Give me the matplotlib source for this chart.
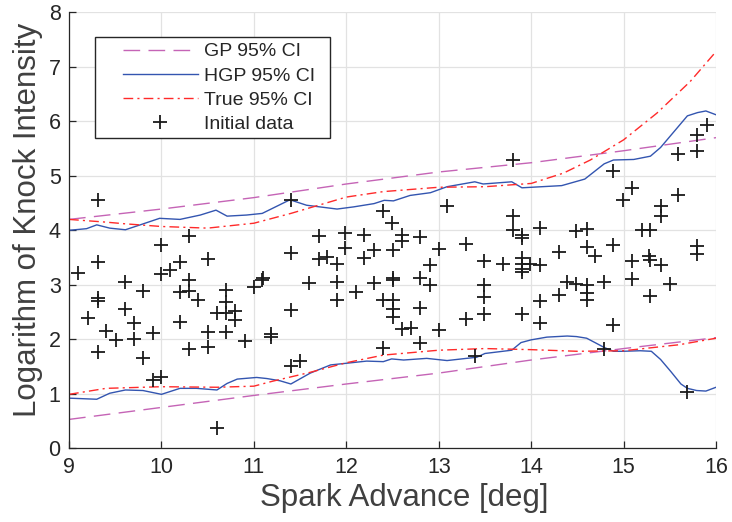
import matplotlib
matplotlib.use("Agg")
import matplotlib.pyplot as plt
from matplotlib.patches import Rectangle

# ---- data -------------------------------------------------------------
spark_x = [9.10, 9.21, 9.31, 9.31, 9.31, 9.31, 9.31, 9.40, 9.51, 9.61, 9.61,
           9.70, 9.70, 9.80, 9.80, 9.91, 9.91, 10.00, 10.00, 10.00, 10.09,
           10.20, 10.20, 10.20, 10.30, 10.30, 10.30, 10.30, 10.39, 10.50,
           10.50, 10.50, 10.60, 10.60, 10.70, 10.70, 10.70, 10.70, 10.80,
           10.80, 10.90, 11.00, 11.10, 11.09, 11.19, 11.19, 11.40, 11.40,
           11.40, 11.40, 11.50, 11.60, 11.70, 11.70, 11.79, 11.90, 11.90,
           11.90, 11.99, 11.99, 12.10, 12.19, 12.19, 12.30, 12.30, 12.40,
           12.40, 12.40, 12.49, 12.50, 12.50, 12.50, 12.50, 12.50, 12.50,
           12.60, 12.60, 12.60, 12.70, 12.80, 12.80, 12.80, 12.80, 12.90,
           12.90, 13.00, 13.00, 13.09, 13.30, 13.30, 13.39, 13.49, 13.49,
           13.49, 13.49, 13.69, 13.80, 13.80, 13.80, 13.90, 13.90, 13.90,
           13.90, 13.90, 13.90, 13.90, 13.99, 14.10, 14.10, 14.10, 14.10,
           14.30, 14.30, 14.39, 14.49, 14.49, 14.60, 14.60, 14.60, 14.60,
           14.60, 14.69, 14.79, 14.79, 14.89, 14.89, 14.89, 14.99, 15.09,
           15.09, 15.09, 15.20, 15.29, 15.28, 15.29, 15.29, 15.40, 15.40,
           15.40, 15.50, 15.59, 15.59, 15.69, 15.79, 15.79, 15.79, 15.79,
           15.90]
knock_y = [3.22, 2.40, 4.56, 3.41, 2.75, 2.70, 1.77, 2.15, 1.99, 3.05, 2.56,
           2.29, 2.00, 2.88, 1.65, 2.11, 1.25, 3.73, 3.20, 1.31, 3.27,
           3.42, 2.87, 2.31, 3.90, 3.08, 2.89, 1.83, 2.72, 3.47,
           2.14, 1.86, 2.49, 0.37, 2.90, 2.68, 2.48, 2.14, 2.52,
           2.36, 1.97, 2.96, 3.12, 3.08, 2.10, 2.05, 4.55, 3.59,
           2.54, 1.51, 1.60, 3.04, 3.90, 3.47, 3.51, 3.38, 3.05,
           2.72, 3.95, 3.68, 2.87, 3.92, 3.50, 3.63, 3.03, 4.35,
           2.72, 1.84, 4.14, 3.64, 3.12, 3.09, 2.72, 2.55, 2.41,
           3.91, 3.81, 2.18, 2.21, 3.88, 3.12, 2.58, 1.94, 3.36,
           3.00, 3.66, 2.17, 4.44, 3.74, 2.38, 1.70, 3.43, 3.00,
           2.78, 2.47, 3.39, 5.29, 4.26, 4.01, 3.92, 3.86, 3.49,
           3.38, 3.29, 3.24, 2.47, 3.39, 4.04, 3.37, 2.71, 2.30,
           3.60, 2.81, 3.05, 3.99, 3.02, 4.03, 3.69, 2.99, 2.85,
           2.72, 3.52, 3.05, 1.83, 5.09, 3.73, 2.26, 4.56, 4.78,
           3.43, 3.10, 4.00, 4.00, 3.53, 3.46, 2.80, 4.44, 4.27,
           3.36, 3.01, 5.40, 4.64, 1.04, 5.75, 5.46, 3.72, 3.56,
           5.93]

gp_x = [9.0, 10.0, 11.0, 12.0, 13.0, 14.0, 15.0, 16.0]
gp_upper = [4.20, 4.39, 4.60, 4.85, 5.07, 5.24, 5.46, 5.70]
gp_lower = [0.53, 0.75, 0.97, 1.18, 1.38, 1.62, 1.83, 2.03]

true_up_x = [9.0, 9.4, 9.6, 10.0, 10.5, 11.0, 11.4, 12.0, 12.4, 13.0, 13.5,
             14.0, 14.35, 14.64, 15.0, 15.36, 15.72, 16.0]
true_upper = [4.20, 4.15, 4.12, 4.07, 4.04, 4.13, 4.31, 4.61, 4.71, 4.79, 4.80,
              4.86, 5.05, 5.29, 5.66, 6.15, 6.73, 7.28]
true_lo_x = [9.0, 9.4, 10.0, 10.6, 11.0, 11.2, 11.6, 12.0, 12.4, 13.0, 13.5,
             14.0, 14.5, 15.0, 15.6, 16.0]
true_lower = [0.99, 1.10, 1.13, 1.12, 1.14, 1.23, 1.39, 1.57, 1.71, 1.80, 1.83,
              1.81, 1.78, 1.79, 1.90, 2.02]

hgp_up_x = [9.0, 9.19, 9.30, 9.44, 9.61, 9.77, 9.98, 10.20, 10.42, 10.59,
            10.71, 10.92, 11.09, 11.39, 11.57, 11.90, 12.08, 12.30, 12.41,
            12.51, 12.69, 12.91, 13.09, 13.39, 13.48, 13.79, 13.90, 14.33,
            14.58, 14.79, 14.89, 15.11, 15.29, 15.40, 15.59, 15.69, 15.80,
            15.89, 16.0]
hgp_upper = [4.00, 4.03, 4.10, 4.04, 4.01, 4.10, 4.22, 4.20, 4.28, 4.37,
             4.26, 4.28, 4.31, 4.56, 4.46, 4.39, 4.43, 4.49, 4.55,
             4.54, 4.64, 4.69, 4.80, 4.89, 4.85, 4.89, 4.78, 4.82,
             4.94, 5.22, 5.29, 5.30, 5.36, 5.52, 5.90, 6.10, 6.16,
             6.19, 6.12]
hgp_lo_x = [9.0, 9.30, 9.44, 9.61, 9.80, 10.0, 10.20, 10.38, 10.60, 10.71,
            10.82, 11.03, 11.14, 11.28, 11.40, 11.61, 11.83, 12.0, 12.22,
            12.40, 12.49, 12.62, 12.87, 13.09, 13.30, 13.41, 13.50, 13.79,
            13.89, 14.0, 14.17, 14.39, 14.49, 14.60, 14.69, 14.79, 14.89,
            14.99, 15.18, 15.30, 15.40, 15.51, 15.62, 15.69, 15.79, 15.89, 16.0]
hgp_lower = [0.92, 0.90, 1.01, 1.07, 1.06, 0.99, 1.10, 1.10, 1.07, 1.19,
             1.27, 1.30, 1.28, 1.24, 1.18, 1.38, 1.53, 1.56, 1.60,
             1.59, 1.64, 1.62, 1.65, 1.61, 1.65, 1.67, 1.74, 1.80,
             1.94, 1.99, 2.04, 2.06, 2.05, 2.02, 1.94, 1.85, 1.78,
             1.78, 1.79, 1.78, 1.63, 1.41, 1.18, 1.10, 1.06, 1.05, 1.12]

x_ticks = [9, 10, 11, 12, 13, 14, 15, 16]
y_ticks = [0, 1, 2, 3, 4, 5, 6, 7, 8]

# ---- styling ----------------------------------------------------------
plt.rcParams['font.family'] = ['Liberation Sans', 'DejaVu Sans']
TXT = '#262626'
GP_C = '#c564b6'
HGP_C = '#3355b0'
TRUE_C = '#ff2a2a'

fig = plt.figure(figsize=(7.32, 5.22), dpi=100)
ax = fig.add_axes([0.0943, 0.1412, 0.8839, 0.8352])

gp_kw = dict(color=GP_C, lw=1.0, dashes=(12, 6))
true_kw = dict(color=TRUE_C, lw=1.0, dashes=(7, 3, 1.5, 3))
hgp_kw = dict(color=HGP_C, lw=1.0)

l_gp, = ax.plot(gp_x, gp_upper, **gp_kw)
ax.plot(gp_x, gp_lower, **gp_kw)
l_hgp, = ax.plot(hgp_up_x, hgp_upper, **hgp_kw)
ax.plot(hgp_lo_x, hgp_lower, **hgp_kw)
l_true, = ax.plot(true_up_x, true_upper, **true_kw)
ax.plot(true_lo_x, true_lower, **true_kw)
l_pts, = ax.plot(spark_x, knock_y, ls='none', marker='+', ms=10, mew=1.3,
                 color='#1a1a1a')

ax.set_xlim(9, 16)
ax.set_ylim(0, 8)
ax.set_xticks(x_ticks)
ax.set_yticks(y_ticks)
ax.grid(True, color='#e2e2e2', lw=0.9)
ax.set_axisbelow(True)
for s in ('top', 'right'):
    ax.spines[s].set_visible(False)
for s in ('left', 'bottom'):
    ax.spines[s].set_color(TXT)
    ax.spines[s].set_linewidth(0.9)
ax.tick_params(direction='in', length=5, width=0.9, color=TXT,
               labelcolor=TXT, labelsize=15.5, pad=6)

ax.set_xlabel('Spark Advance [deg]', fontsize=22.5, color='#404040')
ax.set_ylabel('Logarithm of Knock Intensity', fontsize=22.5, color='#404040')
ax.xaxis.label.set_x(0.518)
ax.yaxis.label.set_y(0.524)

# legend box
ax.add_patch(Rectangle((0.0402, 0.711), 0.3635, 0.233, transform=ax.transAxes,
                       facecolor='white', edgecolor='#262626', lw=1.0,
                       zorder=4.5))
leg = ax.legend([l_gp, l_hgp, l_true, l_pts],
                ['GP 95% CI', 'HGP 95% CI', 'True 95% CI', 'Initial data'],
                loc='upper left', bbox_to_anchor=(0.0835, 0.930),
                frameon=False, borderpad=0, borderaxespad=0,
                fontsize=14, handlelength=3.83, handletextpad=0.31,
                labelspacing=0.34, numpoints=1)
for t in leg.get_texts():
    t.set_color(TXT)
leg.set_zorder(5)

fig.savefig('out.png', dpi=100)
